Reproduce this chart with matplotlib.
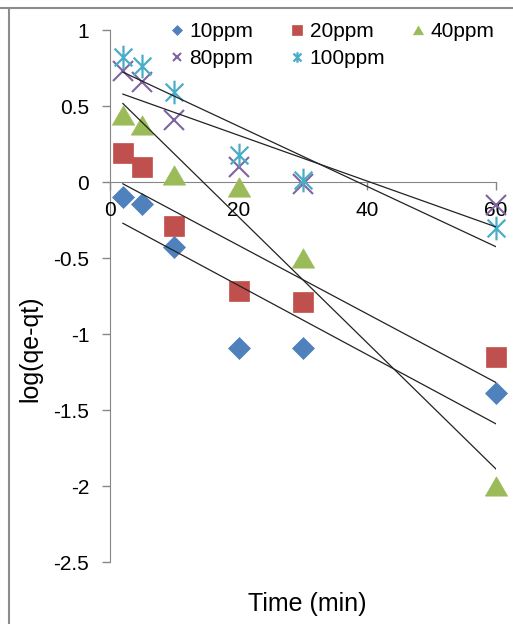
import numpy as np
import matplotlib.pyplot as plt
from matplotlib.path import Path
from matplotlib.lines import Line2D

plt.rcParams['font.family'] = ['Liberation Sans', 'DejaVu Sans']

# data
time = [2, 5, 10, 20, 30, 60]
series_names = ['10ppm', '20ppm', '40ppm', '80ppm', '100ppm']
y10 = [-0.10, -0.145, -0.43, -1.09, -1.09, -1.39]
y20 = [0.19, 0.097, -0.29, -0.72, -0.79, -1.15]
y40 = [0.44, 0.375, 0.046, -0.03, -0.50, -2.00]
y80 = [0.73, 0.66, 0.41, 0.097, -0.01, -0.15]
y100 = [0.82, 0.76, 0.59, 0.18, 0.01, -0.30]
xticks = [0, 20, 40, 60]
yticks = [-2.5, -2, -1.5, -1, -0.5, 0, 0.5, 1]
ytick_labels = ['-2.5', '-2', '-1.5', '-1', '-0.5', '0', '0.5', '1']

# custom markers (Excel-ish)
tri = [(-1, -0.866), (1, -0.866), (0, 0.866), (-1, -0.866)]
star = Path([(0, -1), (0, 1), (-0.75, -0.75), (0.75, 0.75), (-0.75, 0.75), (0.75, -0.75)],
            [Path.MOVETO, Path.LINETO, Path.MOVETO, Path.LINETO, Path.MOVETO, Path.LINETO])

styles = [
    dict(marker='D', color='#4F81BD', ms=11.5, mec='#4F81BD', mew=0.5),
    dict(marker='s', color='#C0504D', ms=15, mec='#C0504D', mew=0.5),
    dict(marker=tri, color='#9BBB59', ms=16, mec='#9BBB59', mew=0.5),
    dict(marker='x', color='#8064A2', ms=14, mew=1.5),
    dict(marker=star, color='#4BACC6', ms=17, mew=1.6),
]

fig = plt.figure(figsize=(5.13, 6.24), dpi=100)
ax = fig.add_axes([110/513, 1-562/624, 386/513, 532/624])

handles = []
for ys, name, st in zip([y10, y20, y40, y80, y100], series_names, styles):
    h, = ax.plot(time, ys, linestyle='none', label=name, zorder=3, clip_on=False, **st)
    handles.append(h)
    k, b = np.polyfit(time, ys, 1)
    xs = np.array([min(time), max(time)])
    ax.plot(xs, k*xs + b, color='#222222', lw=0.9, zorder=4)

ax.set_xlim(0, 60)
ax.set_ylim(-2.5, 1)
ax.spines['bottom'].set_position(('data', 0))
ax.spines['top'].set_visible(False)
ax.spines['right'].set_visible(False)
for s in ['left', 'bottom']:
    ax.spines[s].set_color('#868686')
    ax.spines[s].set_zorder(1)
ax.set_xticks(xticks)
ax.set_yticks(yticks)
ax.set_yticklabels(ytick_labels)
ax.tick_params(direction='out', length=6, width=1, color='#868686', labelsize=15)
ax.tick_params(axis='y', pad=9)
ax.tick_params(axis='x', pad=8)

ax.set_xlabel('Time (min)', fontsize=18)
ax.xaxis.set_label_coords(0.512, -0.056)
ax.set_ylabel('log(qe-qt)', fontsize=18)
ax.yaxis.set_label_coords(-0.176, 0.40)

# legend: three columns placed like the Excel one
columns = [[0, 3], [1, 4], [2]]
col_x = [177, 297, 418]
for idx, cx in zip(columns, col_x):
    leg = fig.legend([handles[i] for i in idx], [series_names[i] for i in idx],
                     frameon=False, fontsize=15, markerscale=0.45,
                     handlelength=0.8, handletextpad=0.2, labelspacing=0.4,
                     borderpad=0, borderaxespad=0, loc='upper left',
                     bbox_to_anchor=((cx - 8.3)/513, 1-22/624))

# chart area border
fig.add_artist(Line2D([0, 1], [1-8/624, 1-8/624], transform=fig.transFigure, color='#8c8c8c', lw=1.5))
fig.add_artist(Line2D([9/513, 9/513], [0, 1-8/624], transform=fig.transFigure, color='#8c8c8c', lw=1.5))

fig.savefig('out.png', dpi=100)
